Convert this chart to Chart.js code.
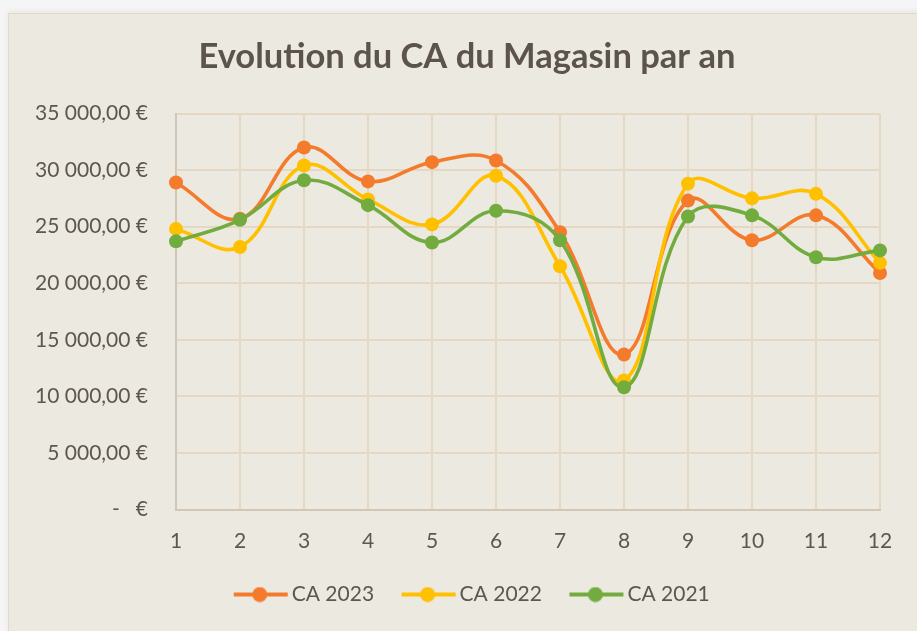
<!DOCTYPE html>
<html><head><meta charset="utf-8">
<script src="https://cdn.jsdelivr.net/npm/chart.js@4/dist/chart.umd.min.js"></script>
<style>
html,body{margin:0;padding:0;width:917px;height:631px;overflow:hidden;background:#F5F5F5;}
#card{position:absolute;left:8px;top:13px;width:940px;height:640px;background:#ECE9E1;border:1px solid #E6D8C5;box-sizing:border-box;box-shadow:0 -2px 6px rgba(0,0,0,0.06);}
#cv{position:absolute;left:9px;top:14px;}
</style></head>
<body>
<div id="card"></div>
<canvas id="cv" width="922" height="617"></canvas>
<script>
const xLabels = ['1','2','3','4','5','6','7','8','9','10','11','12'];
const seriesNames = ['CA 2023','CA 2022','CA 2021'];
const ca2023 = [28900, 25700, 32000, 29000, 30700, 30850, 24500, 13700, 27300, 23800, 26000, 20900];
const ca2022 = [24800, 23200, 30400, 27400, 25200, 29500, 21500, 11400, 28800, 27500, 27900, 21800];
const ca2021 = [23700, 25600, 29100, 26900, 23600, 26400, 23800, 10800, 25900, 26000, 22300, 22900];
const yTickLabels = ['-   €','5 000,00 €','10 000,00 €','15 000,00 €','20 000,00 €','25 000,00 €','30 000,00 €','35 000,00 €'];
const colors = ['#F47B2C','#FFC000','#72AC3E'];

const FONT = 'Lato';
const TXT = '#5E5650';
const GRID = '#E6D7C2';
const AXIS = '#D3C6B4';

function legendIcon(color){
  const c = document.createElement('canvas');
  c.width = 56; c.height = 16;
  const g = c.getContext('2d');
  g.strokeStyle = color; g.lineWidth = 4; g.lineCap = 'butt';
  g.beginPath(); g.moveTo(1,8); g.lineTo(55,8); g.stroke();
  g.fillStyle = color; g.beginPath(); g.arc(27,8,7.5,0,Math.PI*2); g.fill();
  return c;
}
const icons = colors.map(legendIcon);

const seriesData = [ca2023, ca2022, ca2021];
const datasets = seriesData.map((d,i)=>({
  label: seriesNames[i],
  data: d,
  borderColor: colors[i],
  backgroundColor: colors[i],
  pointBackgroundColor: colors[i],
  pointBorderColor: colors[i],
  pointRadius: 7,
  pointBorderWidth: 0,
  borderWidth: 3.6,
  tension: 0.4,
  fill: false,
  order: 3 - i,
  yAxisID: 'y'
}));

const shiftLegend = {
  id: 'shiftLegend',
  afterLayout(chart){
    if (chart.legend){ chart.legend.left += 8; chart.legend.right += 8; }
  }
};

new Chart(document.getElementById('cv'), {
  type: 'line',
  data: { labels: xLabels, datasets },
  plugins: [shiftLegend],
  options: {
    responsive: false,
    animation: false,
    layout: { padding: { left: 0, right: 6, top: 0, bottom: 16 } },
    plugins: {
      title: {
        display: true,
        text: 'Evolution du CA du Magasin par an',
        color: '#5C534C',
        font: { family: FONT, size: 34.5, weight: 'bold' },
        padding: { top: 22.4, bottom: 35.7 }
      },
      legend: {
        position: 'bottom',
        labels: {
          font: { family: FONT, size: 21 },
          color: TXT,
          usePointStyle: true,
          pointStyleWidth: 41,
          boxHeight: 15,
          padding: 34,
          sort: (a,b) => a.datasetIndex - b.datasetIndex,
          generateLabels: (chart) => {
            const items = Chart.defaults.plugins.legend.labels.generateLabels(chart);
            items.forEach(it => { it.pointStyle = icons[it.datasetIndex]; });
            return items;
          }
        }
      },
      tooltip: { enabled: false }
    },
    scales: {
      x: {
        type: 'category',
        offset: false,
        grid: { color: GRID, lineWidth: 2, drawTicks: false, offset: false },
        border: { color: AXIS, width: 2 },
        ticks: { color: TXT, font: { family: FONT, size: 21 }, padding: 19, maxRotation: 0, autoSkip: false },
        afterFit: (s) => { s.height = 40.5; }
      },
      y: {
        position: 'left',
        min: 0, max: 35000,
        grid: { color: GRID, lineWidth: 2, drawTicks: false },
        border: { color: AXIS, width: 2 },
        ticks: {
          stepSize: 5000,
          color: TXT,
          font: { family: FONT, size: 21 },
          padding: 28,
          callback: (v) => yTickLabels[Math.round(v/5000)]
        },
        afterFit: (s) => { s.width = 167; }
      },
      yR: {
        position: 'right',
        type: 'linear',
        min: 0, max: 1,
        display: true,
        grid: { display: false, drawTicks: false },
        border: { display: false },
        ticks: { display: false },
        afterFit: (s) => { s.width = 45; }
      }
    }
  }
});
</script>
</body></html>
